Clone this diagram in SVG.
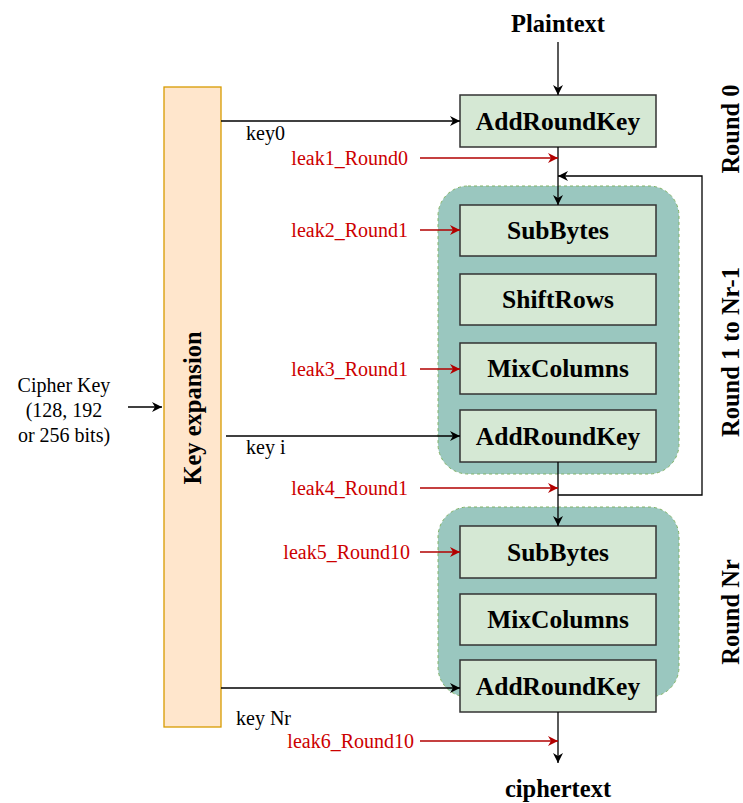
<svg xmlns="http://www.w3.org/2000/svg" width="743" height="803" viewBox="0 0 743 803">
<defs>
<style>
.box{fill:#D5E8D4;stroke:#333333;stroke-width:1.5;}
.grp{fill:#9AC7BF;stroke:#82B366;stroke-width:1;stroke-dasharray:3 3;}
.bl{font-family:"Liberation Serif","Times New Roman",serif;font-weight:bold;font-size:25.5px;text-anchor:middle;fill:#000;}
.ttl{font-family:"Liberation Serif","Times New Roman",serif;font-weight:bold;font-size:24.5px;text-anchor:middle;fill:#000;}
.lk{font-family:"Liberation Serif","Times New Roman",serif;font-size:20px;text-anchor:end;fill:#CC0000;}
.kl{font-family:"Liberation Serif","Times New Roman",serif;font-size:20px;fill:#000;}
.rl{font-family:"Liberation Serif","Times New Roman",serif;font-weight:bold;font-size:24.5px;text-anchor:middle;fill:#000;}
.c{stroke:#000;stroke-width:1.3;fill:none;}
.r{stroke:#B20000;stroke-width:1.3;fill:none;}
</style>
<marker id="ab" viewBox="0 0 10 10" refX="10" refY="5" markerWidth="10" markerHeight="10" markerUnits="userSpaceOnUse" orient="auto"><path d="M0,0 L10,5 L0,10 L3,5 Z" fill="#000"/></marker>
<marker id="ar" viewBox="0 0 10 10" refX="10" refY="5" markerWidth="10" markerHeight="10" markerUnits="userSpaceOnUse" orient="auto"><path d="M0,0 L10,5 L0,10 L3,5 Z" fill="#B20000"/></marker>
</defs>
<rect width="743" height="803" fill="#fff"/>

<g id="groups">
<rect id="round1group" class="grp" x="438" y="186" width="241" height="288" rx="30"/>
<rect id="roundNrgroup" class="grp" x="438" y="507" width="241" height="190" rx="30"/>
</g>

<g id="keyexp">
<rect x="164" y="87" width="57" height="640" fill="#FFE6CC" stroke="#D79B00" stroke-width="1.3"/>
<text class="ttl" transform="translate(201,408) rotate(-90)">Key expansion</text>
</g>

<g id="ark0"><rect class="box" x="460" y="95" width="196" height="52"/><text class="bl" x="558" y="130">AddRoundKey</text></g>
<g id="sb1"><rect class="box" x="460" y="205" width="196" height="51"/><text class="bl" x="558" y="239">SubBytes</text></g>
<g id="sr1"><rect class="box" x="460" y="274" width="196" height="51"/><text class="bl" x="558" y="308">ShiftRows</text></g>
<g id="mc1"><rect class="box" x="460" y="343" width="196" height="51"/><text class="bl" x="558" y="377">MixColumns</text></g>
<g id="ark1"><rect class="box" x="460" y="410" width="196" height="52"/><text class="bl" x="558" y="445">AddRoundKey</text></g>
<g id="sb2"><rect class="box" x="460" y="526" width="196" height="52"/><text class="bl" x="558" y="561">SubBytes</text></g>
<g id="mc2"><rect class="box" x="460" y="594" width="196" height="51"/><text class="bl" x="558" y="628">MixColumns</text></g>
<g id="ark2"><rect class="box" x="460" y="660" width="196" height="52"/><text class="bl" x="558" y="695">AddRoundKey</text></g>

<g id="plaintext"><text class="ttl" x="558" y="32">Plaintext</text></g>
<g id="ciphertext"><text class="ttl" x="558" y="797">ciphertext</text></g>
<g id="cipherkey">
<text class="kl" x="64" y="392" text-anchor="middle">Cipher Key</text>
<text class="kl" x="64" y="417" text-anchor="middle">(128, 192</text>
<text class="kl" x="64" y="442" text-anchor="middle">or 256 bits)</text>
</g>
<g id="roundlabels">
<text class="rl" transform="translate(739,129) rotate(-90)">Round 0</text>
<text class="rl" transform="translate(739,352) rotate(-90)">Round 1 to Nr-1</text>
<text class="rl" transform="translate(739,612) rotate(-90)">Round Nr</text>
</g>

<g id="connectors">
<path class="c" d="M558,42 V95" marker-end="url(#ab)"/>
<path class="c" d="M558,147 V205" marker-end="url(#ab)"/>
<path class="c" d="M558,462 V526" marker-end="url(#ab)"/>
<path class="c" d="M558,495 H702 V176 H558" marker-end="url(#ab)"/>
<path class="c" d="M558,712 V763" marker-end="url(#ab)"/>
<path class="c" d="M128,407 H162" marker-end="url(#ab)"/>
<path class="c" d="M221,121 H460" marker-end="url(#ab)"/>
<path class="c" d="M226,436 H460" marker-end="url(#ab)"/>
<path class="c" d="M221,688 H460" marker-end="url(#ab)"/>
<path class="r" d="M420,158 H558" marker-end="url(#ar)"/>
<path class="r" d="M420,230 H460" marker-end="url(#ar)"/>
<path class="r" d="M420,369 H460" marker-end="url(#ar)"/>
<path class="r" d="M420,488 H558" marker-end="url(#ar)"/>
<path class="r" d="M420,552 H460" marker-end="url(#ar)"/>
<path class="r" d="M420,741 H558" marker-end="url(#ar)"/>
</g>

<g id="labels">
<text class="kl" x="246" y="140">key0</text>
<text class="kl" x="246" y="454">key i</text>
<text class="kl" x="236" y="725">key Nr</text>
<text class="lk" x="408" y="165">leak1_Round0</text>
<text class="lk" x="408" y="237">leak2_Round1</text>
<text class="lk" x="408" y="376">leak3_Round1</text>
<text class="lk" x="408" y="495">leak4_Round1</text>
<text class="lk" x="410" y="559">leak5_Round10</text>
<text class="lk" x="414" y="748">leak6_Round10</text>
</g>
</svg>
